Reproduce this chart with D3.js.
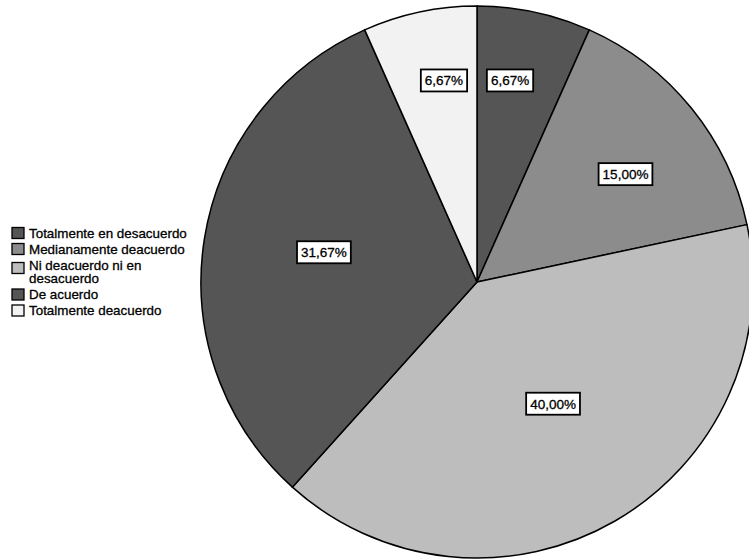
<!DOCTYPE html>
<html>
<head>
<meta charset="utf-8">
<script src="https://cdn.jsdelivr.net/npm/d3@7/dist/d3.min.js"></script>
<style>
    body { margin: 0; background: #fff; }
    svg { display: block; }
    .legend-label, .slice-label { font-family: "Liberation Sans", Arial, sans-serif; fill: #000; stroke: #000; stroke-width: 0.3px; }
</style>
</head>
<body>
<div id="chart"></div>
<script>

// data
let categories = ["Totalmente en desacuerdo", "Medianamente deacuerdo", "Ni deacuerdo ni en desacuerdo", "De acuerdo", "Totalmente deacuerdo"];
let legendLines = [["Totalmente en desacuerdo"], ["Medianamente deacuerdo"], ["Ni deacuerdo ni en", "desacuerdo"], ["De acuerdo"], ["Totalmente deacuerdo"]];
let percentages = [6.67, 15.00, 40.00, 31.67, 6.67];

// styles / layout
let sliceColors = ["#555555", "#8c8c8c", "#bdbdbd", "#555555", "#f2f2f2"];
// label distance as fraction of radius, and small angle nudge (degrees) like SPSS places them
let labelRadius = [0.74, 0.665, 0.52, 0.565, 0.74];
let labelNudge = [-2.7, 3, -2, 2, 2.7];

let width = 749, height = 559;
let cx = 477, cy = 282, radius = 276;

let svg = d3.select("#chart").append("svg")
    .attr("width", width)
    .attr("height", height);

let esFormat = d3.formatLocale({decimal: ",", thousands: ".", grouping: [3], currency: ["", "€"]}).format(".2f");

let pie = d3.pie().sort(null).value(d => d);
let arc = d3.arc().innerRadius(0).outerRadius(radius);
let arcs = pie(percentages);

let g = svg.append("g")
    .attr("transform", "translate(" + cx + "," + cy + ")");

g.selectAll("path.slice")
    .data(arcs)
    .enter()
    .append("path")
    .attr("class", "slice")
    .attr("d", arc)
    .attr("fill", (d, i) => sliceColors[i])
    .attr("stroke", "#000")
    .attr("stroke-width", 1.5)
    .attr("stroke-linejoin", "round");

// labels in white boxes
let labels = g.selectAll("g.label")
    .data(arcs)
    .enter()
    .append("g")
    .attr("class", "label")
    .attr("transform", (d, i) => {
        let a = (d.startAngle + d.endAngle) / 2 + labelNudge[i] * Math.PI / 180;
        let r = labelRadius[i] * radius;
        return "translate(" + (Math.sin(a) * r) + "," + (-Math.cos(a) * r) + ")";
    });

labels.append("rect")
    .attr("fill", "#fff")
    .attr("stroke", "#000")
    .attr("stroke-width", 1.8);

labels.append("text")
    .attr("class", "slice-label")
    .attr("text-anchor", "middle")
    .attr("dy", "0.36em")
    .style("font-size", "13.5px")
    .text(d => esFormat(d.data) + "%");

labels.each(function() {
    let lab = d3.select(this);
    let w = lab.select("text").node().getComputedTextLength();
    lab.select("rect")
        .attr("x", -w / 2 - 4)
        .attr("y", -11)
        .attr("width", w + 8)
        .attr("height", 22);
});

// legend
let legend = svg.append("g")
    .attr("class", "legend")
    .attr("transform", "translate(12,0)");

let lineStep = 13.5, itemGap = 2.5;
let yPos = 233;

categories.forEach((c, i) => {
    let item = legend.append("g");
    let lines = legendLines[i];

    item.append("rect")
        .attr("x", 0)
        .attr("y", yPos - 5.5 + (lines.length > 1 ? 3 : 0))
        .attr("width", 12)
        .attr("height", 11)
        .attr("fill", sliceColors[i])
        .attr("stroke", "#000")
        .attr("stroke-width", 1.3);

    lines.forEach((l, j) => {
        item.append("text")
            .attr("class", "legend-label")
            .attr("x", 17)
            .attr("y", yPos + j * lineStep)
            .attr("dy", "0.35em")
            .style("font-size", "13.4px")
            .text(l);
    });

    yPos += lines.length * lineStep + itemGap;
});

</script>
</body>
</html>
